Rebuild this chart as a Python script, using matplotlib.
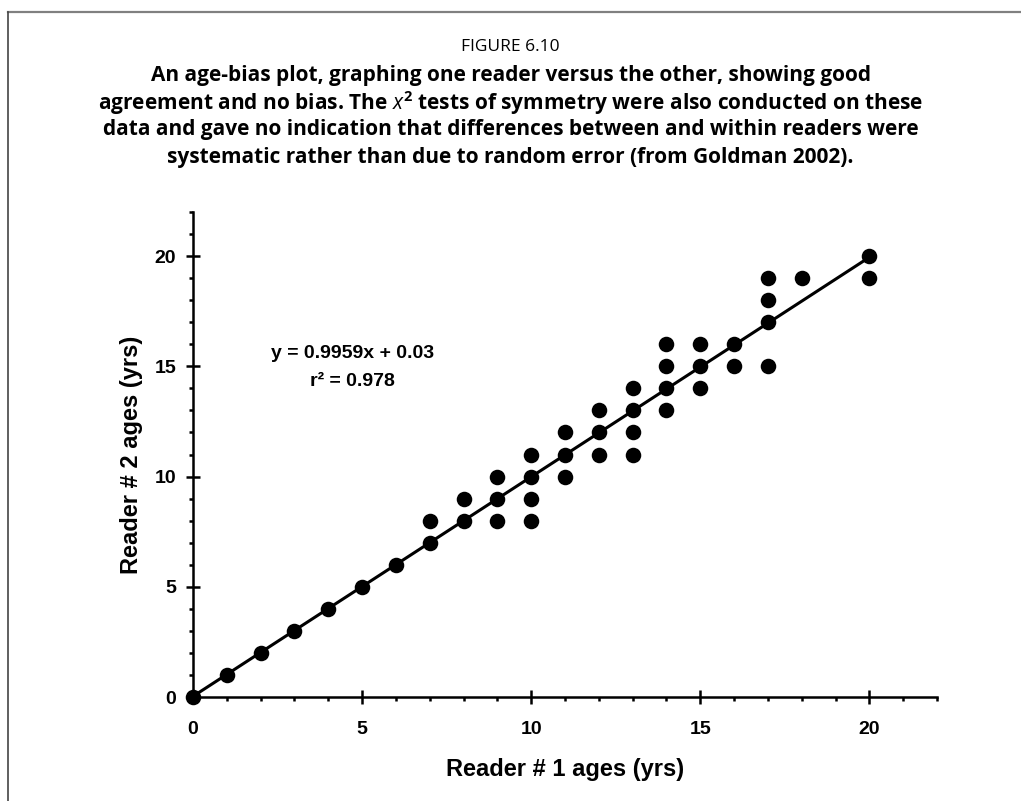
import numpy as np
import matplotlib
matplotlib.use("Agg")
import matplotlib.pyplot as plt
from matplotlib.lines import Line2D
from matplotlib.ticker import MultipleLocator

# ages read by the two readers (one entry per fish)
reader1 = [0, 1, 2, 3, 4, 5, 6,
           7, 7,
           8, 8,
           9, 9, 9,
           10, 10, 10, 10,
           11, 11, 11,
           12, 12, 12,
           13, 13, 13, 13,
           14, 14, 14, 14,
           15, 15, 15,
           16, 16,
           17, 17, 17, 17,
           18,
           20, 20]
reader2 = [0, 1, 2, 3, 4, 5, 6,
           8, 7,
           9, 8,
           10, 9, 8,
           11, 10, 9, 8,
           12, 11, 10,
           13, 12, 11,
           14, 13, 12, 11,
           16, 15, 14, 13,
           16, 15, 14,
           16, 15,
           19, 18, 17, 15,
           19,
           20, 19]

slope = 0.9959
intercept = 0.03
r2 = 0.978
fit_x = [0, 20]
ticks = [0, 5, 10, 15, 20]

fig_title = "FIGURE 6.10"
caption = ["An age-bias plot, graphing one reader versus the other, showing good",
           r"agreement and no bias. The $x^2$ tests of symmetry were also conducted on these",
           "data and gave no indication that differences between and within readers were",
           "systematic rather than due to random error (from Goldman 2002)."]

plt.rcParams['mathtext.fontset'] = 'custom'
plt.rcParams['mathtext.it'] = 'Open Sans:italic'
plt.rcParams['mathtext.rm'] = 'Open Sans:bold'

fig = plt.figure(figsize=(10.21, 8.01), dpi=100)
ax = fig.add_axes([0.189, 0.1298, 0.7287, 0.6055])

ax.scatter(reader1, reader2, s=125, color='black', zorder=3, linewidths=0, clip_on=False)
fx = np.array(fit_x)
ax.plot(fx, slope * fx + intercept, color='black', lw=2.2, zorder=2)

ax.set_xlim(0, 22)
ax.set_ylim(0, 22)
ax.spines['top'].set_visible(False)
ax.spines['right'].set_visible(False)
for s in ['left', 'bottom']:
    ax.spines[s].set_linewidth(1.8)
ax.set_xticks(ticks)
ax.set_yticks(ticks)
ax.xaxis.set_minor_locator(MultipleLocator(1))
ax.yaxis.set_minor_locator(MultipleLocator(1))
ax.tick_params(which='major', direction='inout', length=10, width=1.8)
ax.tick_params(which='minor', direction='out', length=3, width=1.8)
ax.tick_params(axis='x', which='major', pad=12)
ax.tick_params(axis='y', which='major', pad=7)
for lab in ax.get_xticklabels() + ax.get_yticklabels():
    lab.set_fontfamily('Liberation Sans')
    lab.set_fontweight('bold')
    lab.set_fontsize(14)

ax.set_xlabel("Reader # 1 ages (yrs)", family='Liberation Sans', weight='bold',
              fontsize=17, labelpad=15)
ax.set_ylabel("Reader # 2 ages (yrs)", family='Liberation Sans', weight='bold',
              fontsize=17, labelpad=8)

ax.text(4.72, 15.6, "y = %.4fx + %.2f" % (slope, intercept), ha='center', va='center',
        family='Liberation Sans', weight='bold', fontsize=14)
ax.text(4.72, 14.3, "r\u00b2 = %.3f" % r2, ha='center', va='center',
        family='Liberation Sans', weight='bold', fontsize=14)

# caption above the chart
fig.text(0.5, 1 - 47 / 801, fig_title, ha='center', va='center',
         family='Open Sans', fontsize=12.5)
for i, line in enumerate(caption):
    fig.text(0.5, 1 - (76 + 27 * i) / 801, line, ha='center', va='center',
             family='Open Sans', weight='bold', fontsize=15)

# frame lines of the page box
fig.add_artist(Line2D([8 / 1021, 1], [1 - 12 / 801, 1 - 12 / 801],
                      color='#808080', lw=1.6, transform=fig.transFigure))
fig.add_artist(Line2D([8 / 1021, 8 / 1021], [0, 1 - 12 / 801],
                      color='#444444', lw=1.2, transform=fig.transFigure))

fig.savefig("out.png", dpi=100)
